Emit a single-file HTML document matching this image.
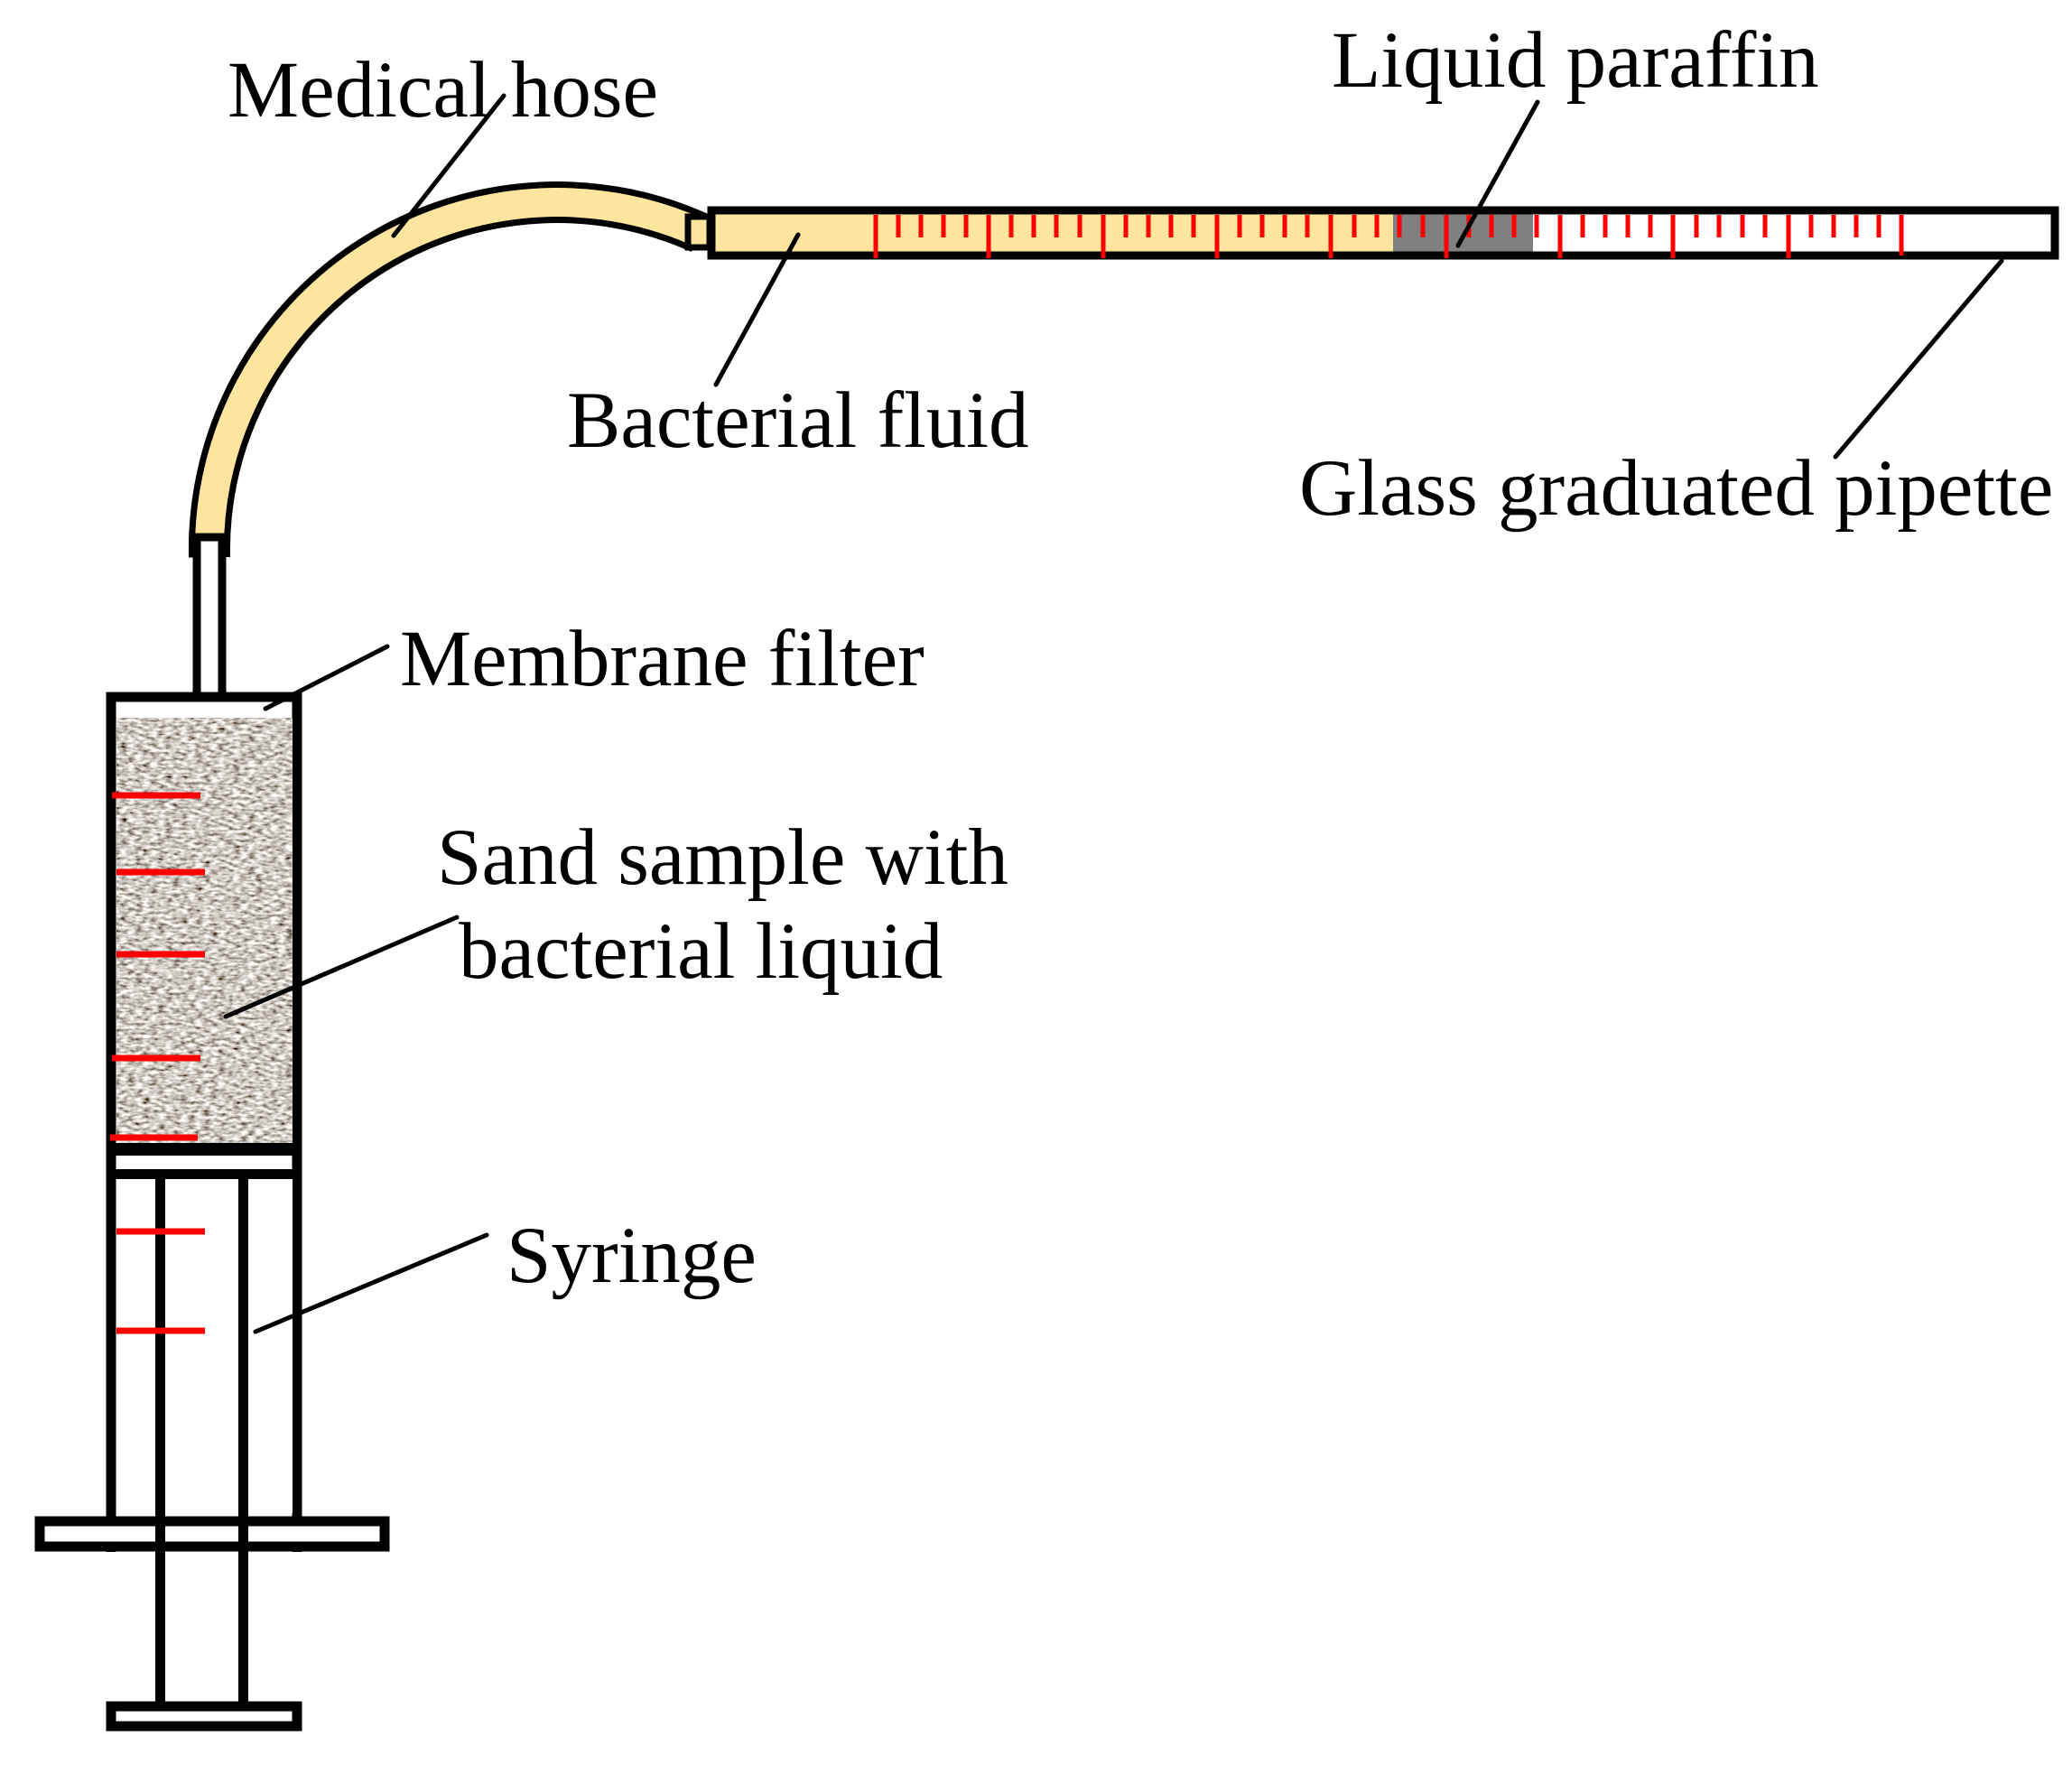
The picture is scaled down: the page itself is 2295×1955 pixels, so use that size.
<!DOCTYPE html>
<html><head><meta charset="utf-8"><style>
html,body{margin:0;padding:0;background:#fff}
svg{display:block}
text{font-family:"Liberation Serif",serif;font-size:89px;fill:#000}
</style></head><body>
<svg width="2295" height="1955" viewBox="0 0 2295 1955" xmlns="http://www.w3.org/2000/svg">
<defs>
<filter id="sand" x="0" y="0" width="100%" height="100%">
<feTurbulence type="fractalNoise" baseFrequency="0.12 0.3" numOctaves="2" seed="3" result="n"/>
<feColorMatrix type="matrix" in="n" values="1.7 0 0 0 -0.22  1.7 0 0 0 -0.26  1.7 0 0 0 -0.30  0 0 0 0 1"/>
</filter>
</defs>

<path d="M 232 595 L 232 617 A 385 385 0 0 1 775 258" fill="none" stroke="#000" stroke-width="46"/>
<path d="M 232 598 L 232 617 A 385 385 0 0 1 775 258" fill="none" stroke="#ffe59e" stroke-width="32"/>
<rect x="218" y="595" width="28" height="180" fill="#fff" stroke="#000" stroke-width="9"/>
<rect x="762" y="240" width="24" height="34" fill="#ffe59e" stroke="#000" stroke-width="7"/>

<rect x="788" y="233" width="1488" height="50" fill="#fff" stroke="#000" stroke-width="9"/>
<rect x="792.5" y="237.5" width="750.5" height="41" fill="#ffe59e"/>
<rect x="1543" y="237.5" width="155" height="41" fill="#808080"/>
<g stroke="#ff0000" stroke-width="5">
<line x1="970" y1="238" x2="970" y2="286"/><line x1="1095" y1="238" x2="1095" y2="286"/><line x1="1222" y1="238" x2="1222" y2="286"/><line x1="1348" y1="238" x2="1348" y2="286"/><line x1="1474" y1="238" x2="1474" y2="286"/><line x1="1602" y1="238" x2="1602" y2="286"/><line x1="1728" y1="238" x2="1728" y2="286"/><line x1="1853" y1="238" x2="1853" y2="286"/><line x1="1981" y1="238" x2="1981" y2="286"/><line x1="2106" y1="238" x2="2106" y2="283"/>
<path d="M995 238v25M1020 238v25M1045 238v25M1070 238v25M1120 238v25M1145 238v25M1170 238v25M1196 238v25M1247 238v25M1272 238v25M1297 238v25M1322 238v25M1373 238v25M1398 238v25M1423 238v25M1448 238v25M1500 238v25M1525 238v25M1550 238v25M1576 238v25M1627 238v25M1652 238v25M1677 238v25M1702 238v25M1753 238v25M1778 238v25M1803 238v25M1828 238v25M1879 238v25M1904 238v25M1930 238v25M1955 238v25M2006 238v25M2031 238v25M2056 238v25M2081 238v25"/>
</g>

<rect x="123" y="772" width="206" height="1040" fill="#fff" stroke="#000" stroke-width="11"/>
<rect x="129" y="795" width="195" height="475" fill="#a89c90"/>
<rect x="129" y="795" width="195" height="475" filter="url(#sand)"/>
<rect x="118" y="1266" width="216" height="14" fill="#000"/>
<rect x="118" y="1295" width="216" height="11" fill="#000"/>
<rect x="172" y="1300" width="11" height="600" fill="#000"/>
<rect x="264" y="1300" width="11" height="600" fill="#000"/>
<rect x="129" y="1306" width="43" height="370" fill="#fff"/>
<rect x="183" y="1306" width="81" height="370" fill="#fff"/>
<rect x="275" y="1306" width="49" height="370" fill="#fff"/>
<rect x="44" y="1685" width="382" height="28" fill="#fff" stroke="#000" stroke-width="11"/>
<rect x="172" y="1680" width="11" height="220" fill="#000"/>
<rect x="264" y="1680" width="11" height="220" fill="#000"/>
<rect x="0" y="1719" width="118" height="180" fill="#fff"/>
<rect x="334" y="1719" width="200" height="180" fill="#fff"/>
<rect x="118" y="1719" width="54" height="171" fill="#fff"/>
<rect x="183" y="1719" width="81" height="171" fill="#fff"/>
<rect x="275" y="1719" width="59" height="171" fill="#fff"/>
<rect x="123" y="1890" width="206" height="22" fill="#fff" stroke="#000" stroke-width="11"/>
<rect x="172" y="1719" width="11" height="172" fill="#000"/>
<rect x="264" y="1719" width="11" height="172" fill="#000"/>
<rect x="0" y="1918" width="2295" height="37" fill="#fff"/>

<g stroke="#ff0000" stroke-width="7">
<line x1="124" y1="881" x2="222" y2="881"/>
<line x1="129" y1="966" x2="227" y2="966"/>
<line x1="129" y1="1057" x2="227" y2="1057"/>
<line x1="124" y1="1172" x2="222" y2="1172"/>
<line x1="122" y1="1260" x2="219" y2="1260"/>
<line x1="129" y1="1364" x2="227" y2="1364"/>
<line x1="129" y1="1474" x2="227" y2="1474"/>
</g>

<g stroke="#000" stroke-width="5" stroke-linecap="round">
<line x1="558" y1="106" x2="436" y2="261"/>
<line x1="1703" y1="113" x2="1615" y2="272"/>
<line x1="884" y1="260" x2="793" y2="426"/>
<line x1="2217" y1="289" x2="2033" y2="506"/>
<line x1="429" y1="716" x2="294" y2="785"/>
<line x1="506" y1="1016" x2="250" y2="1126"/>
<line x1="539" y1="1368" x2="283" y2="1475"/>
</g>

<text x="252" y="129">Medical hose</text>
<text x="1475" y="96">Liquid paraffin</text>
<text x="628" y="495">Bacterial fluid</text>
<text x="1439" y="570">Glass graduated pipette</text>
<text x="443" y="759">Membrane filter</text>
<text x="484" y="979">Sand sample with</text>
<text x="508" y="1083">bacterial liquid</text>
<text x="561" y="1420">Syringe</text>
</svg>
</body></html>
